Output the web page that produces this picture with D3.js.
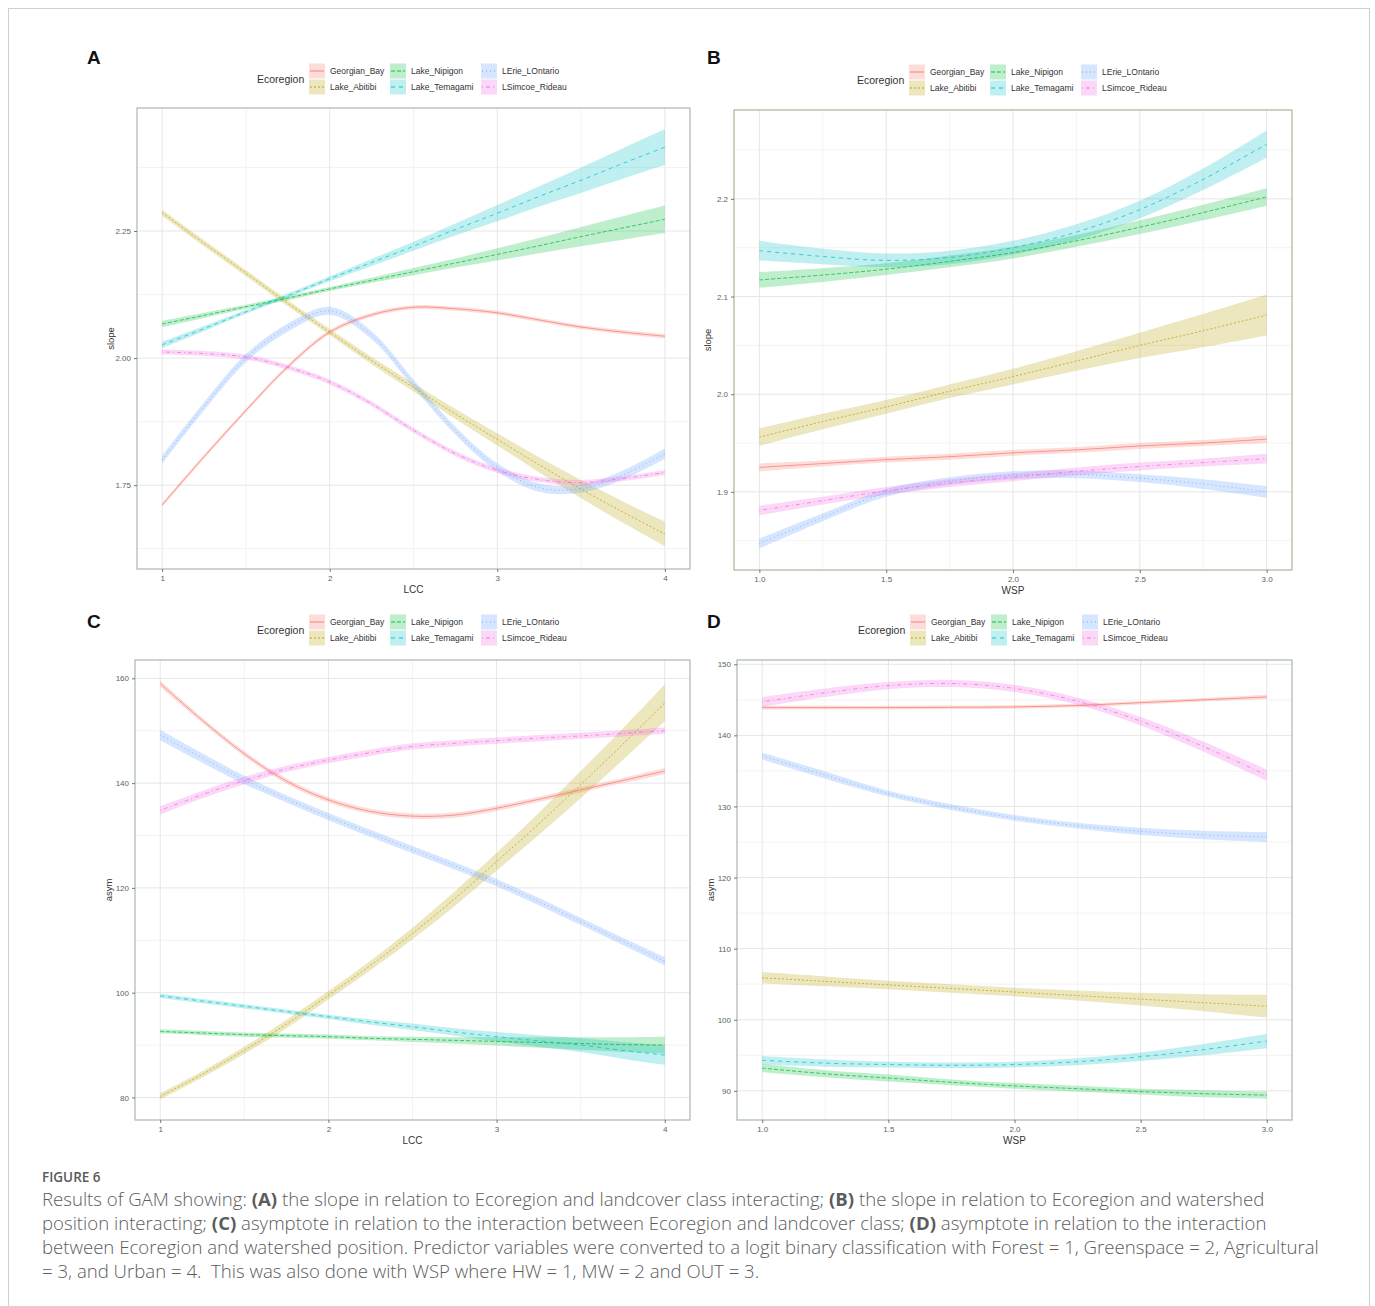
<!DOCTYPE html>
<html><head><meta charset="utf-8">
<script src="https://cdn.jsdelivr.net/npm/d3@7"></script>
<style>body{margin:0;background:#fff} svg{display:block}</style>
</head><body>
<svg id="fig" width="1375" height="1306"></svg>
<script>
// ---------------- DATA ----------------
const ecoregions = ["Georgian_Bay","Lake_Abitibi","Lake_Nipigon","Lake_Temagami","LErie_LOntario","LSimcoe_Rideau"];
const lccX = [1,1.25,1.5,1.75,2,2.25,2.5,2.75,3,3.25,3.5,3.75,4];
const wspX = [1,1.25,1.5,1.75,2,2.25,2.5,2.75,3];

// Panel A: slope ~ LCC (fit and half-width of ribbon), ecoregion order
const slopeLCC_fit = [
  [1.711,1.806,1.897,1.983,2.051,2.085,2.100,2.097,2.089,2.075,2.061,2.051,2.043],
  [2.286,2.226,2.167,2.108,2.051,1.995,1.942,1.890,1.840,1.790,1.742,1.697,1.654],
  [2.067,2.084,2.101,2.118,2.136,2.153,2.170,2.187,2.204,2.221,2.239,2.256,2.273],
  [2.026,2.058,2.091,2.123,2.156,2.188,2.220,2.253,2.285,2.318,2.350,2.383,2.415],
  [1.800,1.905,2.000,2.060,2.093,2.045,1.950,1.857,1.785,1.745,1.743,1.770,1.812],
  [2.012,2.009,2.002,1.982,1.953,1.910,1.858,1.812,1.779,1.761,1.755,1.763,1.775]
];
const slopeLCC_se = [
  [0.004,0.004,0.004,0.004,0.004,0.004,0.004,0.004,0.004,0.004,0.004,0.004,0.004],
  [0.006,0.006,0.006,0.006,0.006,0.007,0.008,0.010,0.012,0.015,0.018,0.021,0.024],
  [0.006,0.005,0.004,0.004,0.004,0.005,0.007,0.009,0.012,0.015,0.019,0.023,0.027],
  [0.006,0.005,0.004,0.004,0.005,0.007,0.009,0.012,0.016,0.020,0.025,0.030,0.035],
  [0.008,0.008,0.008,0.008,0.008,0.008,0.008,0.008,0.008,0.008,0.008,0.009,0.010],
  [0.005,0.005,0.005,0.005,0.005,0.005,0.005,0.005,0.005,0.005,0.005,0.005,0.005]
];

// Panel B: slope ~ WSP
const slopeWSP_fit = [
  [1.925,1.929,1.933,1.936,1.940,1.943,1.947,1.950,1.954],
  [1.956,1.972,1.987,2.003,2.018,2.034,2.050,2.065,2.081],
  [2.117,2.122,2.128,2.136,2.145,2.157,2.171,2.186,2.202],
  [2.147,2.141,2.137,2.140,2.150,2.166,2.189,2.220,2.256],
  [1.847,1.874,1.899,1.911,1.917,1.918,1.914,1.908,1.900],
  [1.881,1.891,1.901,1.909,1.915,1.921,1.926,1.930,1.934]
];
const slopeWSP_se = [
  [0.004,0.003,0.003,0.003,0.003,0.003,0.003,0.003,0.004],
  [0.009,0.008,0.007,0.007,0.008,0.010,0.013,0.017,0.021],
  [0.008,0.007,0.006,0.006,0.006,0.006,0.007,0.008,0.009],
  [0.010,0.008,0.007,0.007,0.007,0.008,0.009,0.011,0.014],
  [0.005,0.004,0.004,0.004,0.004,0.004,0.004,0.005,0.006],
  [0.005,0.004,0.004,0.004,0.004,0.004,0.004,0.004,0.005]
];

// Panel C: asym ~ LCC
const asymLCC_fit = [
  [159.0,152.0,145.6,140.4,136.8,134.6,133.7,133.9,135.2,136.9,138.7,140.5,142.3],
  [80.2,84.4,89.0,94.0,99.5,105.2,111.3,117.9,125.0,132.2,139.7,147.4,155.3],
  [92.6,92.3,92.0,91.8,91.6,91.3,91.1,90.9,90.7,90.5,90.3,90.1,90.0],
  [99.4,98.4,97.4,96.4,95.4,94.4,93.5,92.5,91.6,90.8,90.0,89.0,88.1],
  [149.2,144.8,140.6,137.0,133.6,130.4,127.3,124.2,121.0,117.4,113.6,109.8,106.0],
  [134.8,137.8,140.5,142.7,144.4,145.8,147.0,147.6,148.1,148.6,149.0,149.5,150.0]
];
const asymLCC_se = [
  [0.6,0.5,0.5,0.5,0.5,0.5,0.5,0.5,0.5,0.5,0.5,0.5,0.6],
  [0.6,0.6,0.7,0.8,0.8,0.9,1.1,1.4,1.7,2.1,2.6,3.0,3.5],
  [0.4,0.4,0.4,0.4,0.4,0.4,0.5,0.6,0.8,1.0,1.2,1.4,1.6],
  [0.4,0.4,0.4,0.4,0.4,0.5,0.6,0.7,0.9,1.1,1.3,1.6,1.9],
  [1.0,0.9,0.8,0.7,0.7,0.7,0.7,0.7,0.7,0.7,0.7,0.7,0.8],
  [0.8,0.7,0.7,0.6,0.6,0.6,0.6,0.6,0.6,0.6,0.6,0.6,0.6]
];

// Panel D: asym ~ WSP
const asymWSP_fit = [
  [143.9,143.9,143.9,143.95,144.0,144.2,144.6,145.0,145.4],
  [105.9,105.4,104.9,104.4,103.9,103.4,102.9,102.4,101.9],
  [93.2,92.4,91.8,91.2,90.7,90.3,89.9,89.6,89.4],
  [94.3,93.9,93.7,93.6,93.7,94.1,94.8,95.8,97.0],
  [137.1,134.4,131.8,129.9,128.4,127.3,126.5,126.0,125.7],
  [144.7,146.0,147.0,147.3,146.6,144.8,142.0,138.4,134.4]
];
const asymWSP_se = [
  [0.25,0.25,0.25,0.25,0.25,0.25,0.25,0.25,0.3],
  [0.8,0.7,0.6,0.6,0.6,0.7,0.9,1.2,1.6],
  [0.6,0.5,0.5,0.4,0.4,0.4,0.4,0.5,0.5],
  [0.6,0.5,0.4,0.4,0.4,0.5,0.6,0.8,1.0],
  [0.5,0.5,0.4,0.4,0.4,0.4,0.5,0.6,0.7],
  [0.7,0.6,0.5,0.5,0.5,0.5,0.6,0.7,0.8]
];

const lccTicks = [1,2,3,4];
const wspTicks = [1.0,1.5,2.0,2.5,3.0];
const slopeLCCTicks = [1.75,2.00,2.25];
const slopeWSPTicks = [1.9,2.0,2.1,2.2];
const asymLCCTicks = [80,100,120,140,160];
const asymWSPTicks = [90,100,110,120,130,140,150];

// ---------------- STYLE ----------------
const ecoColors = ["#F8766D","#B79F00","#00BA38","#00BFC4","#619CFF","#F564E3"];
const ecoDash = [null,"2,2","4,2","4,4","1,3","1,3,4,3"];
const FONT = "'Liberation Sans', Arial, sans-serif";

const svg = d3.select("#fig");
svg.append("rect").attr("x",8.5).attr("y",8.5).attr("width",1361).attr("height",1310)
  .attr("fill","none").attr("stroke","#cfcfcf");

const panels = [
  {letter:"A", xs:lccX, fit:slopeLCC_fit, se:slopeLCC_se, xDom:[0.85,4.15], yDom:[1.585,2.492],
   xt:lccTicks, yt:slopeLCCTicks, xf:d3.format("d"), yf:d3.format(".2f"), xlab:"LCC", ylab:"slope",
   box:[137,108,690,569], border:"#a9b8b1", lx:257, ly:79, letterPos:[87,64]},
  {letter:"B", xs:wspX, fit:slopeWSP_fit, se:slopeWSP_se, xDom:[0.9,3.1], yDom:[1.820,2.291],
   xt:wspTicks, yt:slopeWSPTicks, xf:d3.format(".1f"), yf:d3.format(".1f"), xlab:"WSP", ylab:"slope",
   box:[734,110,1292,570], border:"#adb596", lx:857, ly:80, letterPos:[707,64]},
  {letter:"C", xs:lccX, fit:asymLCC_fit, se:asymLCC_se, xDom:[0.85,4.15], yDom:[75.7,163.5],
   xt:lccTicks, yt:asymLCCTicks, xf:d3.format("d"), yf:d3.format("d"), xlab:"LCC", ylab:"asym",
   box:[135,660,690,1120], border:"#a9b8b1", lx:257, ly:630, letterPos:[87,628]},
  {letter:"D", xs:wspX, fit:asymWSP_fit, se:asymWSP_se, xDom:[0.9,3.1], yDom:[85.9,150.6],
   xt:wspTicks, yt:asymWSPTicks, xf:d3.format(".1f"), yf:d3.format("d"), xlab:"WSP", ylab:"asym",
   box:[737,660,1292,1120], border:"#a9b8a8", lx:858, ly:630, letterPos:[707,628]}
];

function minorOf(ticks, dom){
  const step = ticks[1]-ticks[0];
  const out = [];
  for (let v = ticks[0]-step/2; v <= dom[1]; v += step) if (v >= dom[0]) out.push(+v.toFixed(6));
  return out;
}

panels.forEach(p => {
  const [x0,y0,x1,y1] = p.box;
  const x = d3.scaleLinear().domain(p.xDom).range([x0,x1]);
  const y = d3.scaleLinear().domain(p.yDom).range([y1,y0]);
  const g = svg.append("g");

  g.append("rect").attr("x",x0).attr("y",y0).attr("width",x1-x0).attr("height",y1-y0).attr("fill","#fff");
  minorOf(p.xt,p.xDom).forEach(v => g.append("line").attr("x1",x(v)).attr("x2",x(v)).attr("y1",y0).attr("y2",y1)
      .attr("stroke","#f0f0f0").attr("stroke-width",0.8));
  minorOf(p.yt,p.yDom).forEach(v => g.append("line").attr("y1",y(v)).attr("y2",y(v)).attr("x1",x0).attr("x2",x1)
      .attr("stroke","#f0f0f0").attr("stroke-width",0.8));
  p.xt.forEach(v => g.append("line").attr("x1",x(v)).attr("x2",x(v)).attr("y1",y0).attr("y2",y1)
      .attr("stroke","#e6e6e6").attr("stroke-width",1));
  p.yt.forEach(v => g.append("line").attr("y1",y(v)).attr("y2",y(v)).attr("x1",x0).attr("x2",x1)
      .attr("stroke","#e6e6e6").attr("stroke-width",1));

  const area = d3.area().curve(d3.curveCatmullRom)
    .x((d,i)=>x(p.xs[i])).y0(d=>y(d[0]-d[1])).y1(d=>y(d[0]+d[1]));
  const line = d3.line().curve(d3.curveCatmullRom).x((d,i)=>x(p.xs[i])).y(d=>y(d));
  p.fit.forEach((vals,k) => {
    const rows = vals.map((v,i)=>[v,p.se[k][i]]);
    g.append("path").attr("d",area(rows)).attr("fill",ecoColors[k]).attr("fill-opacity",0.25);
  });
  p.fit.forEach((vals,k) => {
    g.append("path").attr("d",line(vals)).attr("fill","none").attr("stroke",ecoColors[k])
      .attr("stroke-width",0.85).attr("stroke-opacity",0.85)
      .attr("stroke-dasharray",ecoDash[k]);
  });

  g.append("rect").attr("x",x0).attr("y",y0).attr("width",x1-x0).attr("height",y1-y0)
    .attr("fill","none").attr("stroke",p.border).attr("stroke-width",1.2);

  const xa = d3.axisBottom(x).tickValues(p.xt).tickFormat(p.xf).tickSize(3).tickPadding(3);
  const ya = d3.axisLeft(y).tickValues(p.yt).tickFormat(p.yf).tickSize(3).tickPadding(3);
  const gx = g.append("g").attr("transform",`translate(0,${y1})`).call(xa);
  const gy = g.append("g").attr("transform",`translate(${x0},0)`).call(ya);
  [gx,gy].forEach(a => {
    a.select(".domain").remove();
    a.selectAll(".tick line").attr("stroke","#555").attr("stroke-width",0.8);
    a.selectAll(".tick text").attr("fill","#5a655a").style("font-family",FONT).style("font-size","8px");
  });

  g.append("text").attr("x",(x0+x1)/2).attr("y",y1+24).attr("text-anchor","middle")
    .style("font-family",FONT).style("font-size","10px").attr("fill","#333").text(p.xlab);
  g.append("text").attr("transform",`translate(${x0-26},${(y0+y1)/2}) rotate(-90)`).attr("text-anchor","middle")
    .attr("dy","0.35em").style("font-family",FONT).style("font-size","9.5px").attr("fill","#333").text(p.ylab);

  svg.append("text").attr("x",p.letterPos[0]).attr("y",p.letterPos[1])
    .style("font-family",FONT).style("font-size","19px").style("font-weight","bold").attr("fill","#111").text(p.letter);

  const lg = svg.append("g");
  lg.append("text").attr("x",p.lx).attr("y",p.ly).attr("dy","0.35em")
    .style("font-family",FONT).style("font-size","10.5px").attr("fill","#333").text("Ecoregion");
  const colOff = [52, 133, 224];
  ecoregions.forEach((name,k) => {
    const col = Math.floor(k/2), row = k%2;
    const bx = p.lx + colOff[col], cy = p.ly - 8 + row*16;
    lg.append("rect").attr("x",bx).attr("y",cy-7.5).attr("width",16).attr("height",15)
      .attr("fill",ecoColors[k]).attr("fill-opacity",0.25);
    lg.append("line").attr("x1",bx+1).attr("x2",bx+15).attr("y1",cy).attr("y2",cy)
      .attr("stroke",ecoColors[k]).attr("stroke-width",0.9).attr("stroke-dasharray",ecoDash[k]);
    lg.append("text").attr("x",bx+21).attr("y",cy).attr("dy","0.35em")
      .style("font-family",FONT).style("font-size","8.5px").attr("fill","#333").text(name);
  });
});

// ---------------- CAPTION ----------------
const CAP = "'Open Sans', 'Noto Sans', sans-serif";
svg.append("text").attr("x",42).attr("y",1182).style("font-family",CAP).style("font-size","13.5px")
  .style("font-weight","600").attr("fill","#5a5a5a").text("FIGURE 6");

const captionLines = [
  [["Results of GAM showing: ",0],["(A)",1],[" the slope in relation to Ecoregion and landcover class interacting; ",0],["(B)",1],[" the slope in relation to Ecoregion and watershed",0]],
  [["position interacting; ",0],["(C)",1],[" asymptote in relation to the interaction between Ecoregion and landcover class; ",0],["(D)",1],[" asymptote in relation to the interaction",0]],
  [["between Ecoregion and watershed position. Predictor variables were converted to a logit binary classification with Forest = 1, Greenspace = 2, Agricultural",0]],
  [["= 3, and Urban = 4.\u00a0 This was also done with WSP where HW = 1, MW = 2 and OUT = 3.",0]]
];
const capTexts = captionLines.map((parts,i) => {
  const t = svg.append("text").attr("x",42).attr("y",1206 + i*24)
    .style("font-family",CAP).style("font-size","17px").attr("fill","#5c5c5c");
  parts.forEach(([s,b]) => t.append("tspan").style("font-weight", b ? "700" : "300").text(s));
  return t;
});
const w0 = capTexts[0].node().getComputedTextLength();
const fs = 17 * 1223 / w0;
capTexts.forEach(t => t.style("font-size", fs.toFixed(2)+"px"));
</script>
</body></html>
